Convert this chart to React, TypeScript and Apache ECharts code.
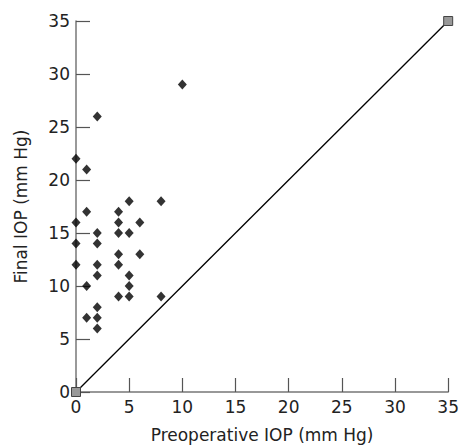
import React, { useEffect, useRef } from "react";
import * as echarts from "echarts";

const preopIOP = [10, 2, 0, 1, 1, 4, 5, 8, 0, 4, 6, 2, 4, 5, 0, 2, 4, 6, 0, 2, 4, 2, 5, 1, 5, 4, 5, 8, 2, 1, 2, 2];
const finalIOP = [29, 26, 22, 21, 17, 17, 18, 18, 16, 16, 16, 15, 15, 15, 14, 14, 13, 13, 12, 12, 12, 11, 11, 10, 10, 9, 9, 9, 8, 7, 7, 6];
const lineX = [0, 35];
const lineY = [0, 35];
const xTicks = [0, 5, 10, 15, 20, 25, 30, 35];
const yTicks = [0, 5, 10, 15, 20, 25, 30, 35];

export default function App() {
  const ref = useRef<HTMLDivElement>(null);
  useEffect(() => {
    const chart = echarts.init(ref.current!, undefined, { renderer: "svg" });
    const font = "DejaVu Sans";
    const axisCommon = {
      min: 0,
      max: 35,
      interval: 5,
      splitLine: { show: false },
      axisLine: { lineStyle: { color: "#777", width: 1.5 } },
      axisTick: { inside: true, length: 14, lineStyle: { color: "#555", width: 1.2 } },
      axisLabel: { color: "#222", fontSize: 17, fontFamily: font },
      nameLocation: "middle" as const,
      nameTextStyle: { color: "#222", fontSize: 17, fontFamily: font },
    };
    chart.setOption({
      animation: false,
      backgroundColor: "#fff",
      grid: { left: 76, right: 8, top: 21, bottom: 54 },
      xAxis: {
        ...axisCommon,
        type: "value",
        name: "Preoperative IOP (mm Hg)",
        nameGap: 34,
        axisLabel: { ...axisCommon.axisLabel, margin: 6, customValues: xTicks },
      },
      yAxis: {
        ...axisCommon,
        type: "value",
        name: "Final IOP (mm Hg)",
        nameGap: 47,
        axisLabel: { ...axisCommon.axisLabel, margin: 6, customValues: yTicks },
      },
      series: [
        {
          type: "line",
          data: lineX.map((x, i) => [x, lineY[i]]),
          symbol: "rect",
          symbolSize: 9,
          showSymbol: true,
          lineStyle: { color: "#000", width: 1.3 },
          itemStyle: { color: "#999", borderColor: "#444", borderWidth: 1 },
          z: 2,
        },
        {
          type: "scatter",
          data: preopIOP.map((x, i) => [x, finalIOP[i]]),
          symbol: "diamond",
          symbolSize: [9, 10],
          itemStyle: { color: "#000" },
          z: 3,
        },
      ],
    });
    return () => chart.dispose();
  }, []);
  return <div ref={ref} style={{ width: 462, height: 448, position: "absolute", left: 0, top: 0 }} />;
}
